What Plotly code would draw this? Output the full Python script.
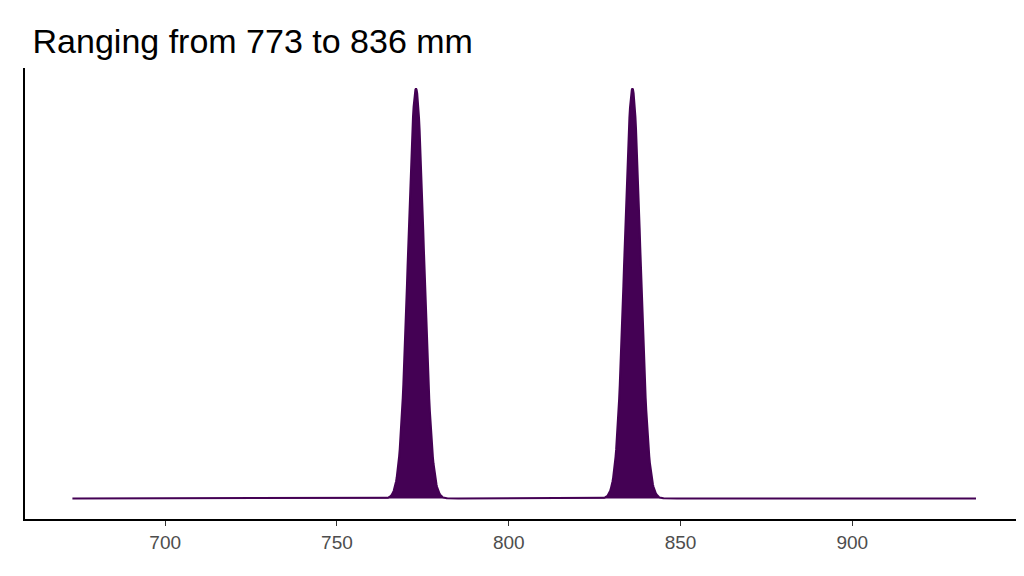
import numpy as np
import plotly.graph_objects as go

# observed values (mm) and density settings
values = [773, 836]
bandwidth = 2.3
x_min, x_max = 673, 936

grid = np.linspace(x_min, x_max, 1500)
dens = np.zeros_like(grid)
for v in values:
    dens += np.exp(-0.5 * ((grid - v) / bandwidth) ** 2) / (bandwidth * np.sqrt(2 * np.pi))
dens /= len(values)

fig = go.Figure(go.Scatter(
    x=grid, y=dens, mode="lines", fill="tozeroy",
    line=dict(color="#440154", width=2), fillcolor="#440154",
))

ymax = dens.max()
fig.update_layout(
    width=1024, height=576,
    margin=dict(l=17, r=11, t=60, b=65),
    plot_bgcolor="white", paper_bgcolor="white",
    showlegend=False,
    title=dict(text="Ranging from 773 to 836 mm", x=0.024, xanchor="left",
               y=0.943, yanchor="middle",
               font=dict(family="Liberation Sans, Arial", size=34, color="black")),
    xaxis=dict(range=[659.2, 949.1], tickvals=[700, 750, 800, 850, 900],
               showgrid=False, zeroline=False, showline=True, linecolor="black",
               linewidth=2, ticks="outside", ticklen=5, tickcolor="#333",
               tickfont=dict(family="Liberation Sans, Arial", size=19, color="#4d4d4d")),
    yaxis=dict(range=[-0.05 * ymax, ymax * 1.05], showticklabels=False, showgrid=False,
               zeroline=False, showline=True, linecolor="black", linewidth=2, ticks=""),
)

fig.write_html("out.html")
